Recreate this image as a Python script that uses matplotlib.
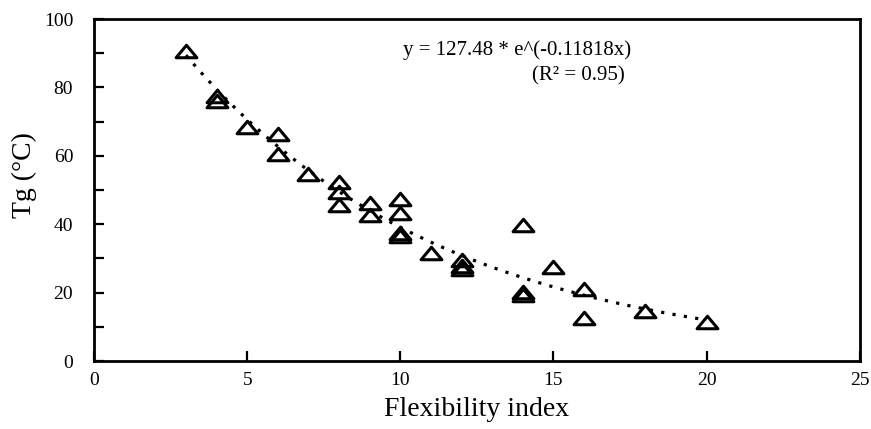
import numpy as np
import matplotlib
matplotlib.use('Agg')
import matplotlib.pyplot as plt
from matplotlib.path import Path
from matplotlib.ticker import MultipleLocator

plt.rcParams['font.family'] = ['Liberation Serif', 'DejaVu Serif']

# flexibility index vs glass transition temperature
flex = [3, 4, 4, 5, 6, 6, 7, 8, 8, 8, 9, 9, 10, 10, 10, 10,
        11, 12, 12, 12, 14, 14, 14, 15, 16, 16, 18, 20]
tg = [90.5, 77.5, 76.0, 68.5, 66.5, 60.5, 54.8, 52.3, 49.5, 45.6, 46.2, 42.7,
      47.4, 43.3, 37.4, 36.5, 31.6, 29.5, 27.8, 26.8, 39.8, 20.2, 19.4, 27.6,
      21.0, 12.6, 14.6, 11.4]

# exponential trendline
fit_a = 127.48
fit_b = -0.11818
fit_r2 = 0.95
fit_x = np.linspace(3, 20, 200)
fit_y = fit_a * np.exp(fit_b * fit_x)

tri = Path([(-1, -0.6), (1, -0.6), (0, 0.6), (-1, -0.6)],
           [Path.MOVETO, Path.LINETO, Path.LINETO, Path.CLOSEPOLY])

fig = plt.figure(figsize=(8.71, 4.29), dpi=100)
ax = fig.add_axes([0.108, 0.1585, 0.879, 0.7972])

ax.plot(fit_x, fit_y, color='black', lw=2.3, linestyle=(0, (1, 2.6)))
ax.plot(flex, tg, linestyle='none', marker=tri, markersize=15,
        markerfacecolor='none', markeredgecolor='black', markeredgewidth=2.2)

ax.set_xlim(0, 25)
ax.set_ylim(0, 100)
ax.xaxis.set_major_locator(MultipleLocator(5))
ax.yaxis.set_major_locator(MultipleLocator(20))
ax.yaxis.set_minor_locator(MultipleLocator(10))
ax.tick_params(which='both', direction='in', length=7, width=1.6,
               top=False, right=False, labelsize=14)
ax.tick_params(axis='y', which='both', pad=15)
ax.tick_params(axis='x', pad=8)
for s in ax.spines.values():
    s.set_linewidth(2)

ax.set_xlabel('Flexibility index', fontsize=20, labelpad=6)
ax.set_ylabel('Tg (°C)', fontsize=20)
ax.yaxis.set_label_coords(-0.074, 0.545)

ax.text(10.1, 91, 'y = %.2f * e^(%.5fx)' % (fit_a, fit_b), fontsize=15,
        va='center', ha='left')
ax.text(14.3, 83.5, '(R² = %.2f)' % fit_r2, fontsize=15,
        va='center', ha='left')

plt.savefig('out.png', dpi=100)
